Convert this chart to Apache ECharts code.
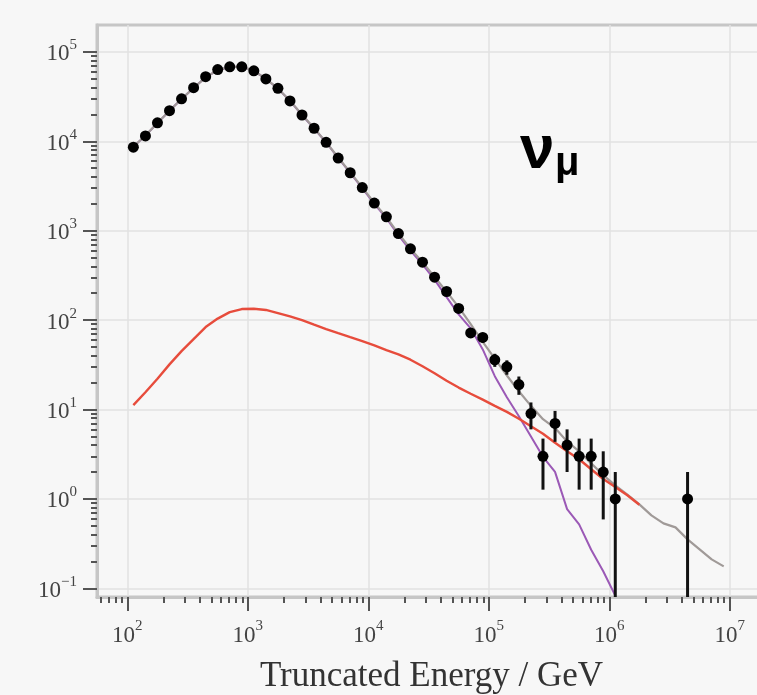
<!DOCTYPE html>
<html>
<head>
<meta charset="utf-8">
<script src="https://cdn.jsdelivr.net/npm/echarts@6/dist/echarts.min.js"></script>
<style>html,body{margin:0;padding:0;background:#f7f7f7;}#c{width:757px;height:695px;}</style>
</head>
<body>
<div id="c"></div>
<script>
// Bin centres (GeV)
const binE = [112.2, 141.3, 177.8, 223.9, 281.8, 354.8, 446.7, 562.3, 707.9, 891.3,
  1122, 1413, 1778, 2239, 2818, 3548, 4467, 5623, 7079, 8913,
  11220, 14130, 17780, 22390, 28180, 35480, 44670, 56230, 70790, 89130,
  112200, 141300, 177800, 223900, 281800, 354800, 446700, 562300, 707900, 891300,
  1122000, 1413000, 1778000, 2239000, 2818000, 3548000, 4467000, 5623000, 7079000, 8913000];
// Observed events per bin
const dataCounts = [8600, 11500, 16100, 22000, 29900, 39800, 52900, 63400, 68200, 68200,
  61500, 49900, 39200, 28300, 19700, 14000, 9750, 6500, 4450, 3040,
  2040, 1430, 928, 627, 445, 302, 209, 135, 72, 64,
  36, 30, 19, 9, 3, 7, 4, 3, 3, 2,
  1, null, null, null, null, null, 1, null, null, null];
// Error bar ends
const errLow = [null, null, null, null, null, null, null, null, null, null,
  null, null, null, null, null, null, null, null, null, null,
  null, null, null, null, null, null, null, null, 63.5, 56,
  30, 24.5, 14.6, 6, 1.27, 4.35, 2, 1.27, 1.27, 0.59,
  0, null, null, null, null, null, 0, null, null, null];
const errHigh = [null, null, null, null, null, null, null, null, null, null,
  null, null, null, null, null, null, null, null, null, null,
  null, null, null, null, null, null, null, null, 80.5, 72,
  42, 35.5, 23.4, 12, 4.73, 9.65, 6, 4.73, 4.73, 3.41,
  2, null, null, null, null, null, 2, null, null, null];
// Total expectation (grey)
const totalLine = [8700, 11600, 16000, 22000, 29800, 39500, 52000, 62500, 68000, 68500,
  61500, 50000, 39000, 28500, 19800, 14000, 9800, 6600, 4500, 3050,
  2050, 1420, 930, 630, 445, 305, 208, 140, 90, 57,
  37, 24, 16, 11, 7.8, 6.2, 4.4, 3.4, 2.5, 1.85,
  1.42, 1.12, 0.87, 0.655, 0.533, 0.481, 0.353, 0.273, 0.211, 0.176];
// Atmospheric (purple)
const atmoLine = [8690, 11580, 15980, 21970, 29750, 39440, 51920, 62400, 67880, 68370,
  61370, 49880, 38890, 28390, 19700, 13910, 9720, 6530, 4440, 2990,
  2000, 1380, 890, 600, 420, 284, 181, 116, 81, 47,
  23.6, 13.7, 8.4, 5.0, 2.96, 2.01, 0.77, 0.52, 0.27, 0.155,
  0.083];
// Astrophysical (red)
const astroLine = [11.2, 15.6, 22.1, 32.0, 45.0, 61.4, 83.6, 104, 123, 133,
  134, 130, 120, 110, 100, 89, 79.4, 71.6, 64.6, 58.3,
  52.3, 46.1, 41.3, 36.1, 30.5, 25.5, 21.0, 17.6, 15.0, 12.9,
  11.0, 9.42, 7.89, 6.50, 5.36, 4.25, 3.41, 2.78, 2.15, 1.67,
  1.36, 1.10, 0.86];
const xMajor = [1e2, 1e3, 1e4, 1e5, 1e6, 1e7];
const yMajor = [1e-1, 1, 1e1, 1e2, 1e3, 1e4, 1e5];

function minorList(lo, hi, from, to) {
  const out = [];
  for (let e = from; e <= to; e++) {
    for (let k = 2; k <= 9; k++) {
      const v = k * Math.pow(10, e);
      if (v > lo && v < hi) out.push(+v.toPrecision(3));
    }
  }
  return out;
}
const X_MIN = 56, X_MAX = 2e7, Y_MIN = 0.08, Y_MAX = 2e5;
const xMinor = minorList(X_MIN, X_MAX, 1, 7);
const yMinor = minorList(Y_MIN * 1.15, Y_MAX * 0.99, -2, 5);

function pairs(xs, ys) {
  const r = [];
  for (let i = 0; i < ys.length; i++) if (ys[i] != null) r.push([xs[i], ys[i]]);
  return r;
}
const errData = [];
for (let i = 0; i < binE.length; i++) if (errHigh[i] != null) errData.push([binE[i], errLow[i], errHigh[i]]);

function expLabel(v) {
  const p = Math.round(Math.log10(v));
  return '{b|10}{s|' + String(p).replace('-', '\u2212') + '}';
}
const labelRich = {
  b: { fontFamily: 'Liberation Serif', fontSize: 23, color: '#444', lineHeight: 28, verticalAlign: 'bottom' },
  s: { fontFamily: 'Liberation Serif', fontSize: 15, color: '#444', lineHeight: 28, verticalAlign: 'top' }
};
const tickStyle = { color: '#555', width: 2 };
const axisLineStyle = { color: '#c6c6c6', width: 3 };

const chart = echarts.init(document.getElementById('c'), null, { renderer: 'canvas' });
chart.setOption({
  animation: false,
  backgroundColor: '#f7f7f7',
  grid: { left: 97, right: -9, top: 25, bottom: 98, show: true, borderColor: '#c6c6c6', borderWidth: 3, containLabel: false, outerBoundsMode: 'none' },
  xAxis: [
    { type: 'log', min: X_MIN, max: X_MAX, position: 'bottom',
      axisLine: { show: true, lineStyle: axisLineStyle },
      axisTick: { show: true, customValues: xMajor, length: 14, lineStyle: tickStyle },
      axisLabel: { customValues: xMajor, formatter: expLabel, rich: labelRich, margin: 22 },
      splitLine: { show: true, lineStyle: { color: '#e2e2e2', width: 1.5 } },
      minorTick: { show: false },
      name: 'Truncated Energy / GeV', nameLocation: 'middle', nameGap: 62,
      nameTextStyle: { fontFamily: 'Liberation Serif', fontSize: 35, color: '#333' } },
    { type: 'log', min: X_MIN, max: X_MAX, position: 'bottom', gridIndex: 0,
      axisLine: { show: false },
      axisTick: { show: true, customValues: xMinor, length: 6, lineStyle: tickStyle },
      axisLabel: { show: false, customValues: xMinor },
      splitLine: { show: false } }
  ],
  yAxis: [
    { type: 'log', min: Y_MIN, max: Y_MAX, position: 'left',
      axisLine: { show: true, lineStyle: axisLineStyle },
      axisTick: { show: true, customValues: yMajor, length: 14, lineStyle: tickStyle },
      axisLabel: { customValues: yMajor, formatter: expLabel, rich: labelRich, margin: 20 },
      splitLine: { show: true, lineStyle: { color: '#e2e2e2', width: 1.5 } } },
    { type: 'log', min: Y_MIN, max: Y_MAX, position: 'left', gridIndex: 0,
      axisLine: { show: false },
      axisTick: { show: true, customValues: yMinor, length: 6, lineStyle: tickStyle },
      axisLabel: { show: false, customValues: yMinor },
      splitLine: { show: false } }
  ],
  graphic: [
    { type: 'text', x: 520, y: 151, style: { text: '\u03bd', font: 'bold 62px "Liberation Sans", Arial, sans-serif', fill: '#000', textVerticalAlign: 'middle', textAlign: 'left' }, z: 100 },
    { type: 'text', x: 555, y: 164, style: { text: '\u03bc', font: 'bold 40px "Liberation Sans", Arial, sans-serif', fill: '#000', textVerticalAlign: 'middle', textAlign: 'left' }, z: 100 }
  ],
  series: [
    { type: 'line', xAxisIndex: 0, yAxisIndex: 0, data: pairs(binE, atmoLine), showSymbol: false, symbol: 'none',
      lineStyle: { color: '#9b59b6', width: 2 }, z: 2 },
    { type: 'line', xAxisIndex: 0, yAxisIndex: 0, data: pairs(binE, totalLine), showSymbol: false, symbol: 'none',
      lineStyle: { color: '#a09a98', width: 2.2 }, z: 3 },
    { type: 'line', xAxisIndex: 0, yAxisIndex: 0, data: pairs(binE, astroLine), showSymbol: false, symbol: 'none',
      lineStyle: { color: '#e74c3c', width: 2.4 }, z: 4 },
    { type: 'custom', xAxisIndex: 0, yAxisIndex: 0, data: errData, encode: { x: 0, y: 2 }, z: 5,
      renderItem: function (params, api) {
        const x = api.value(0), lo = api.value(1), hi = api.value(2);
        const cs = params.coordSys;
        const top = api.coord([x, hi]);
        let by = lo > 0 ? api.coord([x, lo])[1] : cs.y + cs.height;
        by = Math.min(by, cs.y + cs.height);
        return { type: 'line', shape: { x1: top[0], y1: top[1], x2: top[0], y2: by },
          style: { stroke: '#111', lineWidth: 3 } };
      } },
    { type: 'scatter', xAxisIndex: 0, yAxisIndex: 0, data: pairs(binE, dataCounts), symbol: 'circle', symbolSize: 11,
      itemStyle: { color: '#000', opacity: 1 }, z: 6 }
  ]
});
</script>
</body>
</html>
